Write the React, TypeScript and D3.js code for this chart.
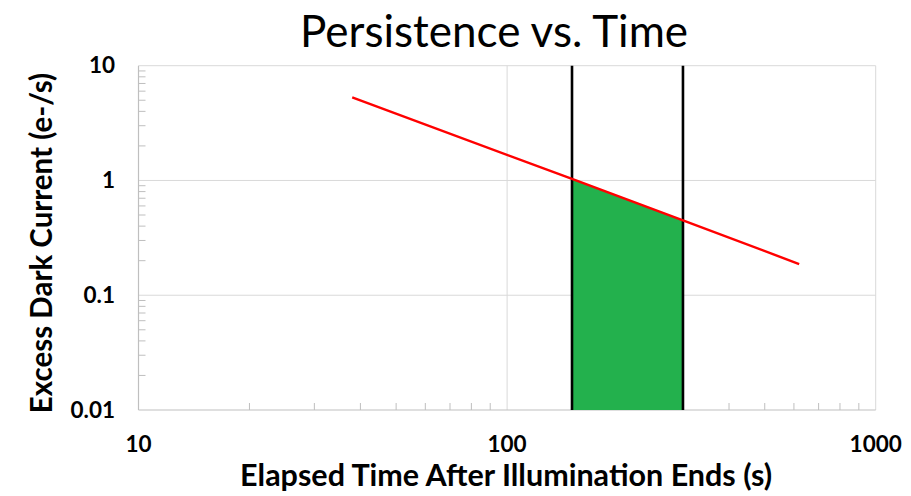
import React, { useEffect, useRef } from 'react';
import * as d3 from 'd3';

const decayTime = [38, 150, 300, 620];
const decayCurrent = [5.3, 1.03, 0.45, 0.187];
const windowStart = 150;
const windowEnd = 300;
const xTicks = [10, 100, 1000];
const yTicks = [0.01, 0.1, 1, 10];

const W = 911;
const H = 496;
const margin = { left: 138.5, right: W - 875.7, top: 65.7, bottom: H - 410 };
const font = 'Lato, "Open Sans", sans-serif';

export default function App() {
    const ref = useRef<SVGSVGElement>(null);

    useEffect(() => {
        const svg = d3.select(ref.current);
        svg.selectAll('*').remove();

        const x = d3.scaleLog().domain([10, 1000]).range([margin.left, W - margin.right]);
        const y = d3.scaleLog().domain([0.01, 10]).range([H - margin.bottom, margin.top]);
        const [x0, x1] = x.range();
        const [y0, y1] = y.range();

        // gridlines at the decades
        const grid = svg.append('g').attr('stroke', '#d9d9d9').attr('stroke-width', 1);
        xTicks.slice(1).forEach(t => {
            grid.append('line').attr('x1', x(t)).attr('x2', x(t)).attr('y1', y0).attr('y2', y1);
        });
        yTicks.slice(1).forEach(t => {
            grid.append('line').attr('x1', x0).attr('x2', x1).attr('y1', y(t)).attr('y2', y(t));
        });

        // minor ticks, pointing into the plot
        const minorX = x.ticks().filter(t => !xTicks.includes(t));
        const minorY = y.ticks().filter(t => !yTicks.some(v => Math.abs(v - t) < 1e-9));
        const ticks = svg.append('g').attr('stroke', '#bfbfbf').attr('stroke-width', 1);
        minorX.forEach(t => {
            ticks.append('line').attr('x1', x(t)).attr('x2', x(t)).attr('y1', y0).attr('y2', y0 - 7);
        });
        minorY.forEach(t => {
            ticks.append('line').attr('x1', x0).attr('x2', x0 + 7).attr('y1', y(t)).attr('y2', y(t));
        });

        // axis lines
        svg.append('line').attr('x1', x0).attr('x2', x1).attr('y1', y0).attr('y2', y0)
            .attr('stroke', '#bfbfbf').attr('stroke-width', 1.2);
        svg.append('line').attr('x1', x0).attr('x2', x0).attr('y1', y0).attr('y2', y1)
            .attr('stroke', '#bfbfbf').attr('stroke-width', 1.2);

        // shaded window under the curve
        const top = d3.zip(decayTime, decayCurrent).filter(d => d[0] >= windowStart && d[0] <= windowEnd);
        const area = d3.area<number[]>()
            .x(d => x(d[0]))
            .y0(y0)
            .y1(d => y(d[1]));
        svg.append('path').attr('d', area(top)).attr('fill', '#23b14d');

        // window edges
        [windowStart, windowEnd].forEach(t => {
            svg.append('line').attr('x1', x(t)).attr('x2', x(t)).attr('y1', y0).attr('y2', y1)
                .attr('stroke', '#000').attr('stroke-width', 2.6);
        });

        // decay curve
        const line = d3.line<number[]>().x(d => x(d[0])).y(d => y(d[1]));
        svg.append('path')
            .attr('d', line(d3.zip(decayTime, decayCurrent)))
            .attr('fill', 'none')
            .attr('stroke', '#ff0000')
            .attr('stroke-width', 2.4);

        // tick labels
        svg.append('g').selectAll('text').data(xTicks).enter().append('text')
            .attr('x', d => x(d)).attr('y', 452)
            .attr('text-anchor', 'middle')
            .attr('font-family', font).attr('font-weight', 'bold').attr('font-size', 22.5)
            .text(d => String(d));
        svg.append('g').selectAll('text').data(yTicks).enter().append('text')
            .attr('x', 115).attr('y', d => y(d) + 7.5)
            .attr('text-anchor', 'end')
            .attr('font-family', font).attr('font-weight', 'bold').attr('font-size', 22.5)
            .text(d => String(d));

        // titles
        svg.append('text')
            .attr('x', (x0 + x1) / 2 - 13).attr('y', 47)
            .attr('text-anchor', 'middle')
            .attr('font-family', font).attr('font-size', 44)
            .text('Persistence vs. Time');
        svg.append('text')
            .attr('x', (x0 + x1) / 2 - 1).attr('y', 486)
            .attr('text-anchor', 'middle')
            .attr('font-family', font).attr('font-weight', 'bold').attr('font-size', 30.5)
            .text('Elapsed Time After Illumination Ends (s)');
        svg.append('text')
            .attr('transform', `translate(52, 243) rotate(-90)`)
            .attr('text-anchor', 'middle')
            .attr('font-family', font).attr('font-weight', 'bold').attr('font-size', 29.5)
            .text('Excess Dark Current (e-/s)');
    }, []);

    return (
        <svg ref={ref} width={W} height={H}
            style={{ position: 'absolute', left: 0, top: 0, background: '#fff' }} />
    );
}
